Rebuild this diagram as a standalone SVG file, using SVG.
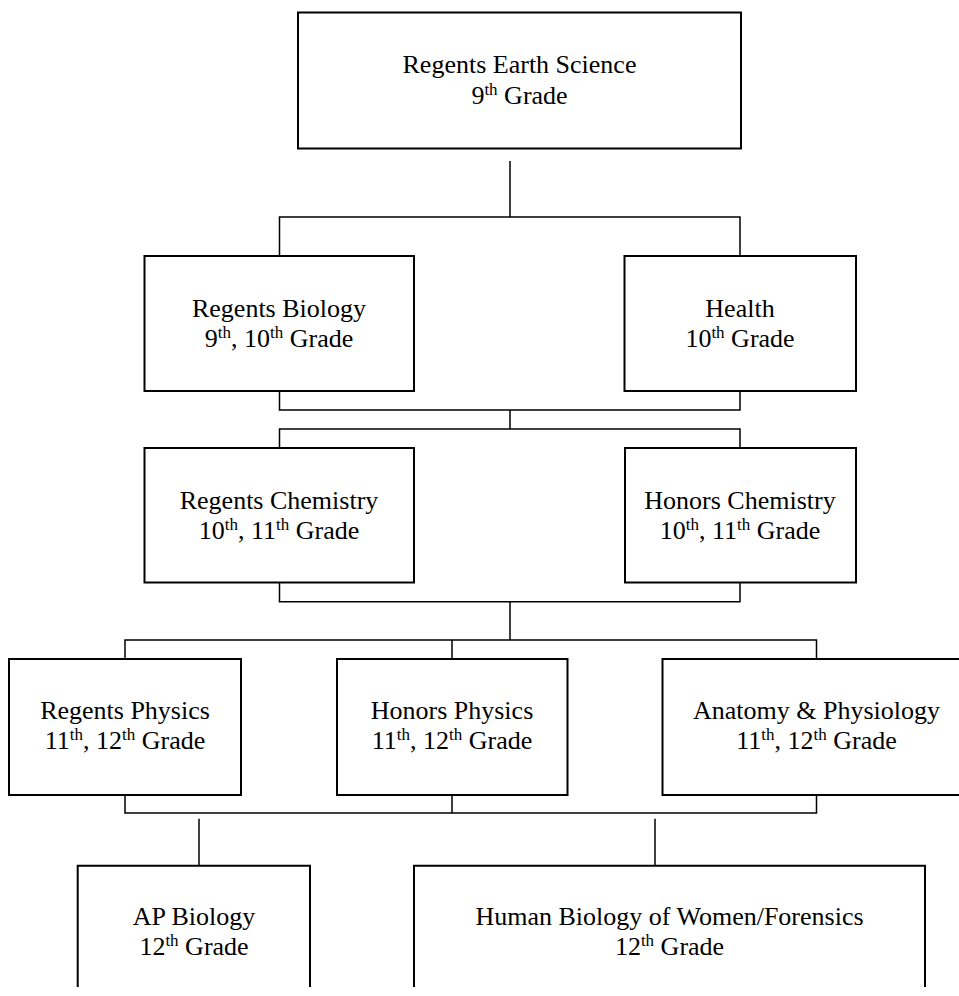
<svg xmlns="http://www.w3.org/2000/svg" width="959" height="996" viewBox="0 0 959 996">
<style>
.box{fill:#fff;stroke:#000;stroke-width:2}
.open{fill:none;stroke:#000;stroke-width:2}
.ln{fill:none;stroke:#000;stroke-width:1.5}
text{font-family:"Liberation Serif","Times New Roman",serif;font-size:26px;fill:#000;text-anchor:middle}
.sup{font-size:17px}
</style>
<rect width="959" height="996" fill="#fff"/>
<g id="connectors">
<path class="ln" d="M510,161 V217 M279.5,256 V217 H740 V256"/>
<path class="ln" d="M279.5,391 V410 H740 V391 M510,410 V429 M279.5,448 V429 H740 V448"/>
<path class="ln" d="M279.5,582.5 V601.7 H740 V582.5 M510,601.7 V640 M125,659 V640 H816.5 V659 M452,640 V659"/>
<path class="ln" d="M125,795 V813 H816.5 V795 M452,795 V813"/>
<path class="ln" d="M199,818.7 V865.7 M655,818.7 V865.7"/>
</g>
<g id="earth-science">
<rect class="box" x="298" y="12.5" width="443" height="136"/>
<text x="519.5" y="72.5">Regents Earth Science</text>
<text x="519.5" y="103.5">9<tspan class="sup" dy="-9">th</tspan><tspan dy="9"> Grade</tspan></text>
</g>
<g id="regents-biology">
<rect class="box" x="144.5" y="256" width="269.5" height="135"/>
<text x="279" y="316.7">Regents Biology</text>
<text x="279" y="346.7">9<tspan class="sup" dy="-9">th</tspan><tspan dy="9">, 10</tspan><tspan class="sup" dy="-9">th</tspan><tspan dy="9"> Grade</tspan></text>
</g>
<g id="health">
<rect class="box" x="624.5" y="256" width="231.5" height="135"/>
<text x="740" y="316.7">Health</text>
<text x="740" y="346.7">10<tspan class="sup" dy="-9">th</tspan><tspan dy="9"> Grade</tspan></text>
</g>
<g id="regents-chemistry">
<rect class="box" x="144.5" y="448" width="269.5" height="134.5"/>
<text x="279" y="508.5">Regents Chemistry</text>
<text x="279" y="538.5">10<tspan class="sup" dy="-9">th</tspan><tspan dy="9">, 11</tspan><tspan class="sup" dy="-9">th</tspan><tspan dy="9"> Grade</tspan></text>
</g>
<g id="honors-chemistry">
<rect class="box" x="625" y="448" width="231" height="134.5"/>
<text x="740" y="508.5">Honors Chemistry</text>
<text x="740" y="538.5">10<tspan class="sup" dy="-9">th</tspan><tspan dy="9">, 11</tspan><tspan class="sup" dy="-9">th</tspan><tspan dy="9"> Grade</tspan></text>
</g>
<g id="regents-physics">
<rect class="box" x="9" y="659" width="232" height="136"/>
<text x="125" y="719">Regents Physics</text>
<text x="125" y="749">11<tspan class="sup" dy="-9">th</tspan><tspan dy="9">, 12</tspan><tspan class="sup" dy="-9">th</tspan><tspan dy="9"> Grade</tspan></text>
</g>
<g id="honors-physics">
<rect class="box" x="337" y="659" width="230.5" height="136"/>
<text x="452" y="719">Honors Physics</text>
<text x="452" y="749">11<tspan class="sup" dy="-9">th</tspan><tspan dy="9">, 12</tspan><tspan class="sup" dy="-9">th</tspan><tspan dy="9"> Grade</tspan></text>
</g>
<g id="anatomy-physiology">
<rect class="box" x="662.5" y="659" width="310" height="136"/>
<text x="816.5" y="719">Anatomy &amp; Physiology</text>
<text x="816.5" y="749">11<tspan class="sup" dy="-9">th</tspan><tspan dy="9">, 12</tspan><tspan class="sup" dy="-9">th</tspan><tspan dy="9"> Grade</tspan></text>
</g>
<g id="ap-biology">
<path class="open" d="M77.7,987 V865.7 H310 V987"/>
<text x="194" y="925">AP Biology</text>
<text x="194" y="955">12<tspan class="sup" dy="-9">th</tspan><tspan dy="9"> Grade</tspan></text>
</g>
<g id="human-biology">
<path class="open" d="M414,987 V865.7 H925 V987"/>
<text x="669.5" y="925">Human Biology of Women/Forensics</text>
<text x="669.5" y="955">12<tspan class="sup" dy="-9">th</tspan><tspan dy="9"> Grade</tspan></text>
</g>
</svg>
